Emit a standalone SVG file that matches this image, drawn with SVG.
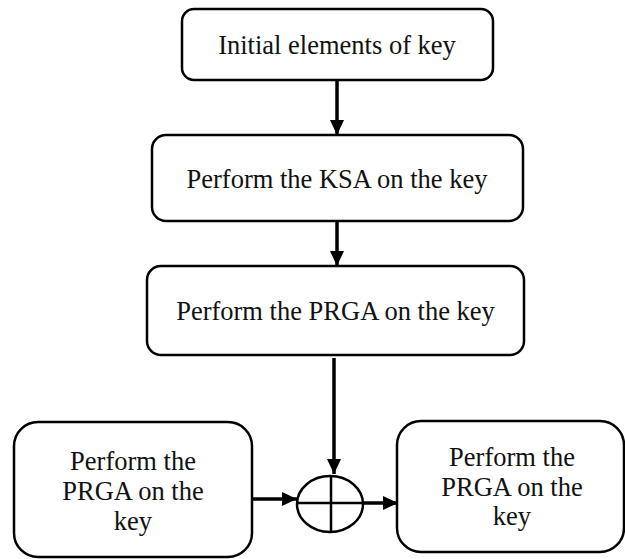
<svg xmlns="http://www.w3.org/2000/svg" width="625" height="559" viewBox="0 0 625 559">
<style>
.box{fill:#fff;stroke:#000;stroke-width:2.5}
.t{font-size:26.5px;fill:#111;text-anchor:middle}
.c{stroke:#000;stroke-width:3.5;fill:none}
.x{fill:#fff;stroke:#000;stroke-width:2.5}
</style>
<defs>
<marker id="ah" markerUnits="userSpaceOnUse" markerWidth="16" markerHeight="16" viewBox="0 0 16 16" refX="15" refY="8" orient="auto">
<path d="M0,1 L15,8 L0,15 Z" fill="#000"/>
</marker>
</defs>
<rect width="625" height="559" fill="#fff"/>
<g font-family="'Liberation Serif', 'Times New Roman', serif">
<g id="n1"><rect class="box" x="182" y="9" width="311" height="71" rx="12"/><text class="t" x="337" y="54">Initial elements of key</text></g>
<g id="n2"><rect class="box" x="152" y="135" width="371" height="86" rx="14"/><text class="t" x="337" y="188">Perform the KSA on the key</text></g>
<g id="n3"><rect class="box" x="147" y="266" width="377" height="89" rx="14"/><text class="t" x="335.5" y="320">Perform the PRGA on the key</text></g>
<g id="n4"><rect class="box" x="14" y="422" width="238" height="135" rx="24"/><text class="t" x="133" y="470">Perform the</text><text class="t" x="133" y="500">PRGA on the</text><text class="t" x="133" y="530">key</text></g>
<g id="n5"><rect class="box" x="397" y="421" width="227" height="131" rx="24"/><text class="t" x="512" y="466">Perform the</text><text class="t" x="512" y="496">PRGA on the</text><text class="t" x="512" y="525">key</text></g>
</g>
<g id="xor"><ellipse class="x" cx="330" cy="504" rx="33" ry="28"/><line x1="331" y1="476" x2="331" y2="532" stroke="#000" stroke-width="2.5"/><line x1="297" y1="503" x2="363" y2="503" stroke="#000" stroke-width="2.5"/></g>
<g id="connectors">
<line class="c" x1="337" y1="80" x2="337" y2="135" marker-end="url(#ah)"/>
<line class="c" x1="337" y1="221" x2="337" y2="266" marker-end="url(#ah)"/>
<line class="c" x1="334" y1="358" x2="334" y2="474" marker-end="url(#ah)"/>
<line class="c" x1="252" y1="499" x2="297" y2="499" marker-end="url(#ah)"/>
<line class="c" x1="363" y1="503" x2="398" y2="503" marker-end="url(#ah)"/>
</g>
</svg>
